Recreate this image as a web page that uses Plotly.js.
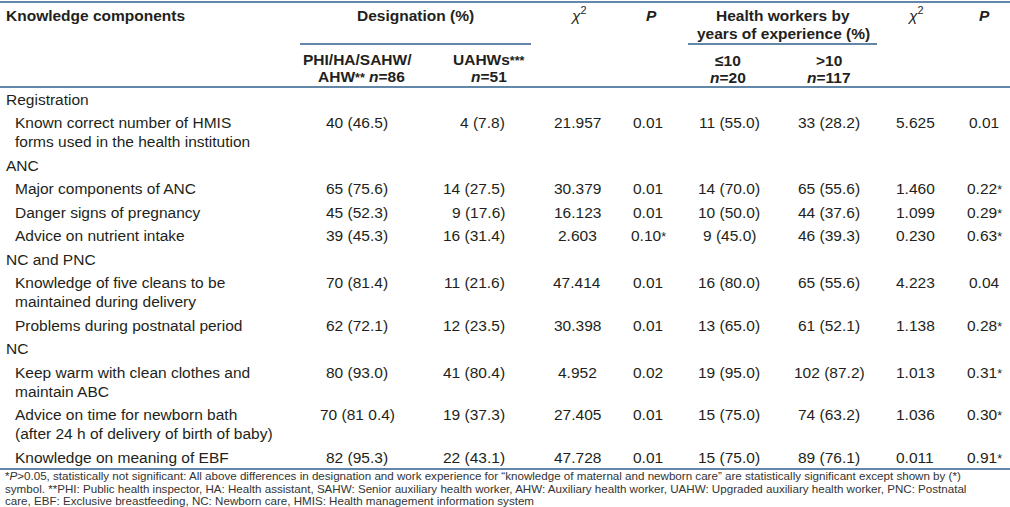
<!DOCTYPE html>
<html>
<head>
<meta charset="utf-8">
<script src="https://cdn.plot.ly/plotly-3.0.1.min.js"></script>
<style>html,body{margin:0;padding:0;background:#fff;}#chart{width:1010px;height:507px;}</style>
</head>
<body>
<div id="chart"></div>
<script>
// ---------- data ----------
const sections = ["Registration", "ANC", "NC and PNC", "NC"];
const items = [
  "Known correct number of HMIS<br>forms used in the health institution",
  "Major components of ANC",
  "Danger signs of pregnancy",
  "Advice on nutrient intake",
  "Knowledge of five cleans to be<br>maintained during delivery",
  "Problems during postnatal period",
  "Keep warm with clean clothes and<br>maintain ABC",
  "Advice on time for newborn bath<br>(after 24 h of delivery of birth of baby)",
  "Knowledge on meaning of EBF"
];
const itemSection = [0, 1, 1, 1, 2, 2, 3, 3, 3];
const phiCount = [40, 65, 45, 39, 70, 62, 80, 70, 82];
const phiPct = ["46.5", "75.6", "52.3", "45.3", "81.4", "72.1", "93.0", "81 0.4", "95.3"];
const uahwCount = [4, 14, 9, 16, 11, 12, 41, 19, 22];
const uahwPct = ["7.8", "27.5", "17.6", "31.4", "21.6", "23.5", "80.4", "37.3", "43.1"];
const chiDesig = ["21.957", "30.379", "16.123", "2.603", "47.414", "30.398", "4.952", "27.405", "47.728"];
const pDesig = ["0.01", "0.01", "0.01", "0.10*", "0.01", "0.01", "0.02", "0.01", "0.01"];
const le10Count = [11, 14, 10, 9, 16, 13, 19, 15, 15];
const le10Pct = ["55.0", "70.0", "50.0", "45.0", "80.0", "65.0", "95.0", "75.0", "75.0"];
const gt10Count = [33, 65, 44, 46, 65, 61, 102, 74, 89];
const gt10Pct = ["28.2", "55.6", "37.6", "39.3", "55.6", "52.1", "87.2", "63.2", "76.1"];
const chiExp = ["5.625", "1.460", "1.099", "0.230", "4.223", "1.138", "1.013", "1.036", "0.011"];
const pExp = ["0.01", "0.22*", "0.29*", "0.63*", "0.04", "0.28*", "0.31*", "0.30*", "0.91*"];
const footnotes = [
  "*<i>P</i>&gt;0.05, statistically not significant: All above differences in designation and work experience for \u201cknowledge of maternal and newborn care\u201d are statistically significant except shown by (*)",
  "symbol. **PHI: Public health inspector, HA: Health assistant, SAHW: Senior auxiliary health worker, AHW: Auxiliary health worker, UAHW: Upgraded auxiliary health worker, PNC: Postnatal",
  "care, EBF: Exclusive breastfeeding, NC: Newborn care, HMIS: Health management information system"
];

// ---------- layout helpers ----------
const W = 1010, H = 507;
const FONT = "Liberation Sans, Arial, Helvetica, sans-serif";
const TXT = "#231f20";
const LINE = "#2f5f8c";
const BODY = 15.5;
const rowStep = 23.5, lineStep = 19, firstRowY = 99;

const ann = [];
function add(text, x, y, anchor, opts) {
  opts = opts || {};
  ann.push({
    text: text, x: x, y: y, xref: "x", yref: "y",
    xanchor: anchor || "center", yanchor: "middle", showarrow: false,
    borderpad: 0,
    font: {family: FONT, size: opts.size || BODY, color: opts.color || TXT}
  });
}
function smallStar(s) { return "<span style=\"font-size:12.5px\">" + s + "</span>"; }
function star(s) { return s.replace("*", smallStar("*")); }

// header
add("<b>Knowledge components</b>", 5, 15, "left");
add("<b>Designation (%)</b>", 415, 15, "center");
add("<i>\u03c7</i><sup>2</sup>", 578, 14, "center");
add("<b><i>P</i></b>", 651, 15, "center");
add("<b>Health workers by</b>", 783, 15, "center");
add("<b>years of experience (%)</b>", 783, 33, "center");
add("<i>\u03c7</i><sup>2</sup>", 915, 14, "center");
add("<b><i>P</i></b>", 984, 15, "center");
add("<b>PHI/HA/SAHW/</b>", 357, 59, "center");
add("<b>AHW" + smallStar("**") + " <i>n</i>=86</b>", 361, 76, "center");
add("<b>UAHWs" + smallStar("***") + "</b>", 489, 59, "center");
add("<b><i>n</i>=51</b>", 489, 76, "center");
add("<b>\u226410</b>", 728, 60, "center");
add("<b><i>n</i>=20</b>", 728, 77, "center");
add("<b>&gt;10</b>", 829, 60, "center");
add("<b><i>n</i>=117</b>", 829, 77, "center");

// body
let y = firstRowY;
let lastSection = -1;
items.forEach((label, i) => {
  if (itemSection[i] !== lastSection) {
    lastSection = itemSection[i];
    add(sections[lastSection], 5, y, "left");
    y += rowStep;
  }
  const lines = label.split("<br>");
  lines.forEach((ln, k) => add(ln, 14, y + k * lineStep, "left"));
  add(phiCount[i] + " (" + phiPct[i] + ")", 357, y, "center");
  add(uahwCount[i] + " (" + uahwPct[i] + ")", 506, y, "right");
  add(chiDesig[i], 577, y, "center");
  add(star(pDesig[i]), 648, y, "center");
  add(le10Count[i] + " (" + le10Pct[i] + ")", 729, y, "center");
  add(gt10Count[i] + " (" + gt10Pct[i] + ")", 829, y, "center");
  add(chiExp[i], 915, y, "center");
  add(star(pExp[i]), 984, y, "center");
  y += rowStep + (lines.length - 1) * lineStep;
});

// footnotes
footnotes.forEach((t, k) => add(t, 4, 475.5 + k * 12.5, "left", {size: 11.6, color: "#333"}));

// rules
const shapes = [
  [0, 1010, 2], [0, 1010, 87], [0, 1010, 469], [300, 531, 44], [688, 877, 44]
].map(s => ({type: "line", xref: "x", yref: "y", x0: s[0], x1: s[1], y0: s[2], y1: s[2],
  line: {color: LINE, width: 1.3}}));

const layout = {
  width: W, height: H,
  margin: {l: 0, r: 0, t: 0, b: 0},
  paper_bgcolor: "#fff", plot_bgcolor: "#fff",
  xaxis: {range: [0, W], visible: false, fixedrange: true},
  yaxis: {range: [H, 0], visible: false, fixedrange: true},
  showlegend: false,
  annotations: ann,
  shapes: shapes
};
Plotly.newPlot("chart", [{x: [], y: [], type: "scatter", mode: "markers", hoverinfo: "skip"}], layout,
  {displayModeBar: false, staticPlot: true});
</script>
</body>
</html>
